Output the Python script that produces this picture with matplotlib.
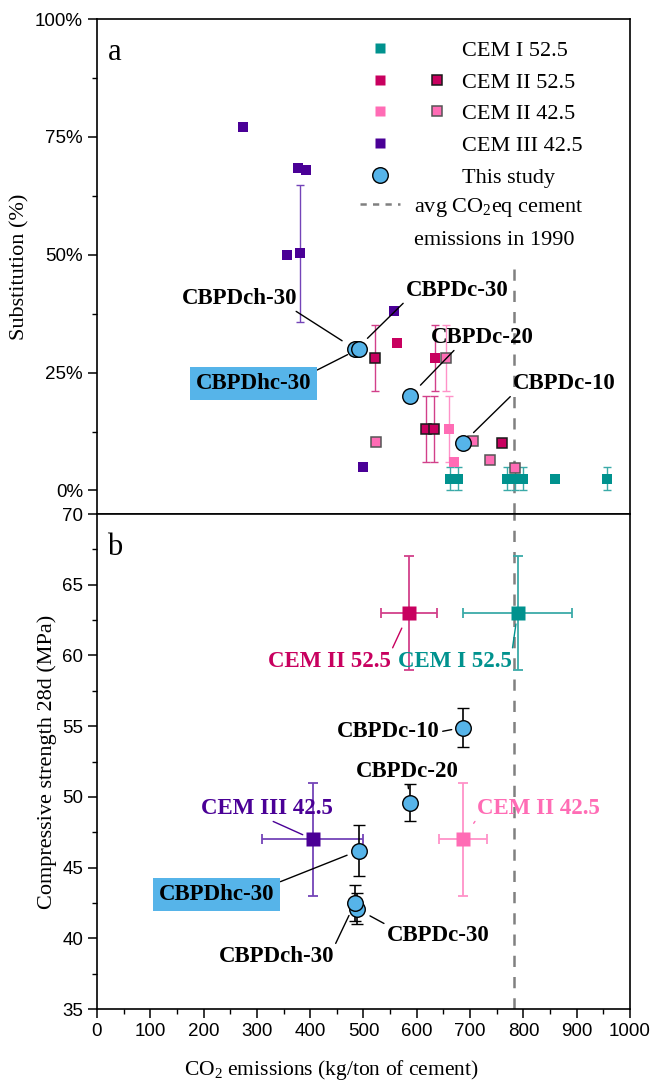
import numpy as np
import matplotlib
matplotlib.use('Agg')
import matplotlib.pyplot as plt
from matplotlib.lines import Line2D
from matplotlib.legend_handler import HandlerTuple
from matplotlib.ticker import MultipleLocator, FuncFormatter

# ---------------- data ----------------
# panel a: substitution (%) vs CO2 emissions (kg/ton)
cem1_co2 = [662, 677, 770, 785, 800, 860, 956]
cem1_sub = [2.5, 2.5, 2.5, 2.5, 2.5, 2.5, 2.5]
cem1_err = [2.5, 2.5, 2.5, 2.5, 2.5, 0, 2.5]

cem2_525_co2 = [562, 635]
cem2_525_sub = [31.3, 28]
cem2_525_err = [0, 7]

cem2_525b_co2 = [522, 617, 632, 759]
cem2_525b_sub = [28, 13, 13, 10]
cem2_525b_err = [7, 7, 7, 0]

cem2_425_co2 = [660, 669]
cem2_425_sub = [13, 6]
cem2_425_err = [7, 0]

cem2_425b_co2 = [524, 654, 705, 738, 785]
cem2_425b_sub = [10.2, 28, 10.4, 6.4, 4.8]
cem2_425b_err = [0, 7, 0, 0, 0]

cem3_co2 = [274, 356, 377, 380, 392, 499, 558]
cem3_sub = [77, 50, 68.5, 50.3, 68, 5, 38]
cem3_err = [0, 0, 0, 14.5, 0, 0, 0]

study_names = ['CBPDc-10', 'CBPDc-20', 'CBPDc-30', 'CBPDch-30', 'CBPDhc-30']
study_co2 = [686, 587, 487, 484, 491]
study_sub = [10, 20, 30, 30, 30]

# panel b: compressive strength
study_str = [54.9, 49.6, 42.1, 42.5, 46.2]
study_str_err = [1.4, 1.3, 1.1, 1.3, 1.8]

cement_names = ['CEM I 52.5', 'CEM II 52.5', 'CEM II 42.5', 'CEM III 42.5']
cement_co2 = [789, 585, 686, 405]
cement_co2_err = [102, 53, 45, 95]
cement_str = [63, 63, 47, 47]
cement_str_err = [4, 4, 4, 4]

avg_1990 = 782

# ---------------- style ----------------
TEAL = '#00928E'
MAG = '#C8005F'
PINK = '#FF6CB5'
PURP = '#4A0096'
BLUE = '#56B4E9'
TEAL_E = '#3AAAA8'
MAG_E = '#D2408A'
PINK_E = '#FF92C8'
PURP_E = '#7444B8'
SERIF = 'Liberation Serif'

plt.rcParams['font.family'] = 'Liberation Sans'
plt.rcParams['mathtext.fontset'] = 'custom'
plt.rcParams['mathtext.rm'] = SERIF
plt.rcParams['mathtext.it'] = SERIF + ':italic'
plt.rcParams['mathtext.bf'] = SERIF + ':bold'

fig = plt.figure(figsize=(6.54, 10.86), dpi=100)
L, W, H = 0.1483, 0.815, 0.4558
ax1 = fig.add_axes([L, 0.5267, W, H])
ax2 = fig.add_axes([L, 0.0709, W, H])

MS_A = 7.2
CIRC = 11.2


def squares(ax, x, y, err, color, ecolor, edge=None):
    x = np.asarray(x, float); y = np.asarray(y, float); err = np.asarray(err, float)
    m = err > 0
    if m.any():
        ax.errorbar(x[m], y[m], yerr=err[m], fmt='none', ecolor=ecolor,
                    elinewidth=1.0, capsize=3, capthick=1.0, zorder=2)
    if edge is None:
        ax.plot(x, y, 's', ms=MS_A, mfc=color, mec='none', mew=0, zorder=3)
    else:
        ax.plot(x, y, 's', ms=MS_A, mfc=color, mec=edge, mew=1.1, zorder=3)


# ---------------- panel a ----------------
squares(ax1, cem1_co2, cem1_sub, cem1_err, TEAL, TEAL_E)
squares(ax1, cem3_co2, cem3_sub, cem3_err, PURP, PURP_E)
squares(ax1, cem2_525_co2, cem2_525_sub, cem2_525_err, MAG, MAG_E)
squares(ax1, cem2_425_co2, cem2_425_sub, cem2_425_err, PINK, PINK_E)
squares(ax1, cem2_525b_co2, cem2_525b_sub, cem2_525b_err, MAG, MAG_E, edge='#1a1a1a')
squares(ax1, cem2_425b_co2, cem2_425b_sub, cem2_425b_err, PINK, PINK_E, edge='#555555')
ax1.plot(study_co2, study_sub, 'o', ms=CIRC, mfc=BLUE, mec='black', mew=1.0, zorder=4)
ax1.axvline(avg_1990, ymax=0.515, color='#808080', lw=1.8, dashes=(4.5, 4), zorder=1)

ax1.set_xlim(0, 1000)
ax1.set_ylim(-5, 100)
ax1.set_yticks([0, 25, 50, 75, 100])
ax1.yaxis.set_minor_locator(MultipleLocator(12.5))
ax1.yaxis.set_major_formatter(FuncFormatter(lambda v, p: '%d%%' % v))
ax1.tick_params(axis='x', which='both', bottom=False, labelbottom=False)
ax1.set_ylabel('Substitution (%)', family=SERIF, fontsize=16)
ax1.text(0.034, 0.933, 'a', transform=ax1.transAxes, family=SERIF, fontsize=22,
         ha='center', va='center')

# legend
blank = Line2D([], [], linestyle='none')
h_c1 = Line2D([], [], ls='none', marker='s', ms=MS_A, mfc=TEAL, mec='none')
h_c2 = Line2D([], [], ls='none', marker='s', ms=MS_A, mfc=MAG, mec='none')
h_c2b = Line2D([], [], ls='none', marker='s', ms=MS_A, mfc=MAG, mec='#1a1a1a', mew=1.1)
h_c4 = Line2D([], [], ls='none', marker='s', ms=MS_A, mfc=PINK, mec='none')
h_c4b = Line2D([], [], ls='none', marker='s', ms=MS_A, mfc=PINK, mec='#555555', mew=1.1)
h_c3 = Line2D([], [], ls='none', marker='s', ms=MS_A, mfc=PURP, mec='none')
h_st = Line2D([], [], ls='none', marker='o', ms=CIRC, mfc=BLUE, mec='black', mew=1.0)
leg1 = ax1.legend([(h_c1, blank), (h_c2, h_c2b), (h_c4, h_c4b), (h_c3, blank), (h_st, blank)],
                  ['CEM I 52.5', 'CEM II 52.5', 'CEM II 42.5', 'CEM III 42.5', 'This study'],
                  handler_map={tuple: HandlerTuple(ndivide=None, pad=0.9)},
                  loc='upper left', bbox_to_anchor=(0.496, 0.957), frameon=False,
                  borderpad=0, borderaxespad=0, handlelength=4.23, handletextpad=0.32,
                  labelspacing=0.5, prop={'family': SERIF, 'size': 16})
ax1.add_artist(leg1)
h_dash = Line2D([], [], color='#808080', lw=1.8, dashes=(2.5, 2.5))
leg2 = ax1.legend([h_dash, blank], ['avg CO$_2$eq cement', 'emissions in 1990'],
                  loc='upper left', bbox_to_anchor=(0.493, 0.643), frameon=False,
                  borderpad=0, borderaxespad=0, handlelength=1.8, handletextpad=0.66,
                  labelspacing=0.5, prop={'family': SERIF, 'size': 16})


def ann(ax, text, xy, xytext, relpos, color='black', lcolor='black', shrinkB=11, box=False):
    bbox = dict(boxstyle='square,pad=0.25', fc=BLUE, ec='none') if box else None
    ax.annotate(text, xy=xy, xytext=xytext, textcoords='data', ha='center', va='center',
                fontsize=16.5, fontweight='bold', family=SERIF, color=color, bbox=bbox,
                arrowprops=dict(arrowstyle='-', color=lcolor, lw=1.0, relpos=relpos,
                                shrinkA=0, shrinkB=shrinkB), zorder=6)


pa = dict(zip(study_names, zip(study_co2, study_sub)))
ann(ax1, 'CBPDch-30', pa['CBPDch-30'], (268, 40.8), (0.95, 0))
ann(ax1, 'CBPDc-30', pa['CBPDc-30'], (676, 42.5), (0, 0))
ann(ax1, 'CBPDhc-30', pa['CBPDhc-30'], (294, 22.7), (1, 1), box=True, shrinkB=9)
ann(ax1, 'CBPDc-20', pa['CBPDc-20'], (723, 32.5), (0.25, 0))
ann(ax1, 'CBPDc-10', pa['CBPDc-10'], (877, 22.7), (0, 0))

# ---------------- panel b ----------------
ccol = [TEAL, MAG, PINK, PURP]
cecol = [TEAL_E, MAG_E, PINK_E, PURP_E]
for i in range(len(cement_names)):
    ax2.errorbar(cement_co2[i], cement_str[i], xerr=cement_co2_err[i], yerr=cement_str_err[i],
                 fmt='s', ms=10.5, mfc=ccol[i], mec='none', ecolor=cecol[i],
                 elinewidth=1.3, capsize=3.6, capthick=1.3, zorder=3)
ax2.errorbar(study_co2, study_str, yerr=study_str_err, fmt='o', ms=CIRC, mfc=BLUE,
             mec='black', mew=1.0, ecolor='black', elinewidth=1.2, capsize=4,
             capthick=1.2, zorder=4)
ax2.axvline(avg_1990, color='#808080', lw=1.8, dashes=(4.5, 4), zorder=1)

ax2.set_xlim(0, 1000)
ax2.set_ylim(35, 70)
ax2.set_xticks(np.arange(0, 1001, 100))
ax2.xaxis.set_minor_locator(MultipleLocator(50))
ax2.set_yticks(np.arange(35, 71, 5))
ax2.yaxis.set_minor_locator(MultipleLocator(2.5))
ax2.set_xlabel('CO$_2$ emissions (kg/ton of cement)', family=SERIF, fontsize=15.5)
ax2.xaxis.set_label_coords(0.44, -0.098)
ax2.set_ylabel('Compressive strength 28d (MPa)', family=SERIF, fontsize=16)
ax2.text(0.034, 0.933, 'b', transform=ax2.transAxes, family=SERIF, fontsize=22,
         ha='center', va='center')

pc = dict(zip(cement_names, zip(cement_co2, cement_str)))
pb = dict(zip(study_names, zip(study_co2, study_str)))
ann(ax2, 'CEM II 52.5', pc['CEM II 52.5'], (437, 59.6), (1, 1), color=MAG, lcolor=MAG, shrinkB=12)
ann(ax2, 'CEM I 52.5', pc['CEM I 52.5'], (672, 59.6), (1, 1), color=TEAL, lcolor=TEAL, shrinkB=8)
ann(ax2, 'CBPDc-10', pb['CBPDc-10'], (547, 54.6), (1, 0.5), shrinkB=8)
ann(ax2, 'CBPDc-20', pb['CBPDc-20'], (583, 51.8), (0.5, 0), shrinkB=10)
ann(ax2, 'CEM III 42.5', pc['CEM III 42.5'], (319, 49.2), (0.5, 0), color=PURP, lcolor=PURP, shrinkB=8)
ann(ax2, 'CEM II 42.5', pc['CEM II 42.5'], (828, 49.2), (0, 0), color=PINK, lcolor=PINK, shrinkB=14)
ann(ax2, 'CBPDhc-30', pb['CBPDhc-30'], (225, 43.1), (1, 1), box=True, shrinkB=9)
ann(ax2, 'CBPDch-30', pb['CBPDch-30'], (337, 38.7), (1, 1), shrinkB=10)
ann(ax2, 'CBPDc-30', pb['CBPDc-30'], (640, 40.2), (0, 1), shrinkB=11)

for ax in (ax1, ax2):
    for s in ax.spines.values():
        s.set_linewidth(1.2)
    ax.tick_params(axis='both', which='major', direction='out', length=6.5, width=1.1,
                   labelsize=13.5, right=False, top=False)
    ax.tick_params(axis='both', which='minor', direction='out', length=3.5, width=1.0,
                   right=False, top=False)
ax1.tick_params(axis='x', which='both', bottom=False, labelbottom=False)

fig.savefig('out.png', dpi=100)
